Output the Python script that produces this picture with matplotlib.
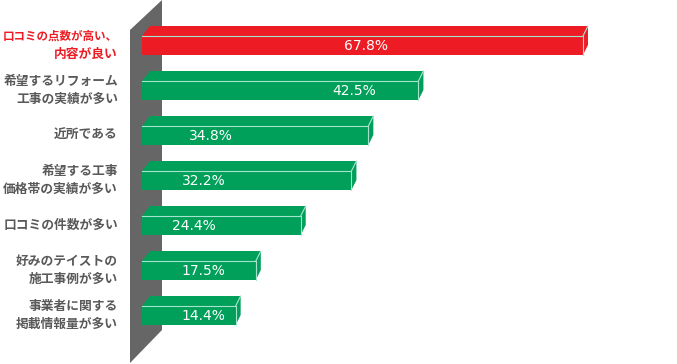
import matplotlib.pyplot as plt
from matplotlib.patches import Polygon

plt.rcParams['font.family'] = ['Noto Sans CJK JP', 'DejaVu Sans']

labels = [
    '口コミの点数が高い、\n内容が良い',
    '希望するリフォーム\n工事の実績が多い',
    '近所である',
    '希望する工事\n価格帯の実績が多い',
    '口コミの件数が多い',
    '好みのテイストの\n施工事例が多い',
    '事業者に関する\n掲載情報量が多い',
]
values = [67.8, 42.5, 34.8, 32.2, 24.4, 17.5, 14.4]

# where the value labels sit (in %, measured along the bar)
value_label_x = [34.4, 32.6, 10.6, 9.5, 8.0, 9.5, 9.5]

W, H = 677, 364
PX = 6.504      # pixels per percent
U = 45.0        # pixels per bar slot
X0 = 142        # pixel of 0 %
Y0 = 45.5       # pixel centre of first bar front face

RED = '#ed1c24'
GREEN = '#00a05a'
EDGE = '#a6e3cf'
WALL = '#666666'


def dx(p):
    return p / PX


def dy(p):
    return p / U


fig = plt.figure(figsize=(W / 100, H / 100), dpi=100)
ax = fig.add_axes([0, 0, 1, 1])
ax.set_xlim(-X0 / PX, (W - X0) / PX)
ax.set_ylim((H - Y0) / U, -Y0 / U)
ax.axis('off')

# grey wall behind the bars
wx0, wx1 = dx(130 - X0), dx(162 - X0)
wall = Polygon([(wx0, dy(30 - Y0)), (wx1, dy(0 - Y0)),
                (wx1, dy(330 - Y0)), (wx0, dy(363 - Y0))],
               closed=True, color=WALL, lw=0, zorder=1)
ax.add_patch(wall)

fh = dy(19)      # front face height
depth_x = dx(5)
depth_y = dy(10)

label_texts = []
for i, (lab, v) in enumerate(zip(labels, values)):
    c = RED if i == 0 else GREEN
    ytf = i - fh / 2
    ybf = i + fh / 2
    ax.barh(i, v, height=fh, left=0, color=c, lw=0, zorder=3)
    top = Polygon([(0, ytf), (dx(8), ytf - depth_y), (v + depth_x, ytf - depth_y), (v, ytf)],
                  closed=True, color=c, lw=0, zorder=3)
    side = Polygon([(v, ytf), (v + depth_x, ytf - depth_y), (v + depth_x, ybf - depth_y), (v, ybf)],
                   closed=True, color=c, lw=0, zorder=3)
    ax.add_patch(top)
    ax.add_patch(side)
    ax.plot([0, v, v], [ytf, ytf, ybf], color=EDGE, lw=0.8, zorder=4)
    ax.plot([v, v + depth_x], [ytf, ytf - depth_y], color=EDGE, lw=0.8, zorder=4)

    ax.text(value_label_x[i], i + dy(0.5), f'{v}%', color='white', fontsize=10,
            family='DejaVu Sans', ha='center', va='center', zorder=5)

    lines = lab.split('\n')
    tc = RED if i == 0 else '#595959'
    n = len(lines)
    for k, ln in enumerate(lines):
        off = (k - (n - 1) / 2) * 18
        t = ax.text(dx(118 - X0), i + dy(off), ln, color=tc, fontsize=9.2,
                    fontweight='bold', ha='right', va='center', zorder=5)
        label_texts.append(t)

# the reference font has proportional kana; shrink any line that would run off the left edge
fig.canvas.draw()
r = fig.canvas.get_renderer()
for t in label_texts:
    bb = t.get_window_extent(r)
    if bb.x0 < 3:
        t.set_fontsize(t.get_fontsize() * (118 - 3) / bb.width)

fig.savefig('out.png', dpi=100)
